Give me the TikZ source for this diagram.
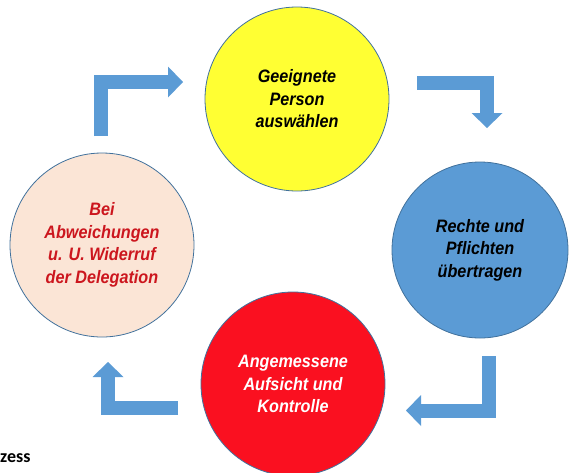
\documentclass[tikz,border=0pt]{standalone}
\usepackage{fontspec}
\setmainfont{Liberation Sans}
\newfontfamily\phasefont{Liberation Sans}[FakeStretch=0.9]
\newfontfamily\capfont{Carlito}
\usetikzlibrary{arrows.meta}

\definecolor{arrowblue}{RGB}{91,155,213}
\definecolor{rimblue}{RGB}{65,113,156}
\definecolor{pickyellow}{RGB}{255,255,51}
\definecolor{rightsblue}{RGB}{91,155,213}
\definecolor{checkred}{RGB}{250,16,32}
\definecolor{revokepeach}{RGB}{251,229,214}
\definecolor{revoketext}{RGB}{204,22,30}

\tikzset{
    phase/.style={circle, draw=rimblue, line width=0.8pt, inner sep=0pt,
        minimum size=184pt, align=center,
        font=\phasefont\bfseries\itshape\fontsize{18}{22.5}\selectfont},
    bentarrow/.style={draw=arrowblue, line width=14pt,
        -{Triangle[width=31pt, length=15pt, line width=0pt]}}
}

\begin{document}
\begin{tikzpicture}[x=1pt, y=-1pt]
    \clip (0,0) rectangle (570,472);
    \useasboundingbox (0,0) rectangle (570,472);

    % the four steps
    \node[phase, fill=pickyellow] (pick) at (297,99) {Geeignete\\Person\\auswählen};
    \node[phase, fill=rightsblue, minimum size=176pt] (rights) at (480,250) {Rechte und\\Pflichten\\übertragen};
    \node[phase, fill=checkred, text=white] (check) at (293,384) {Angemessene\\Aufsicht und\\Kontrolle};
    \node[phase, fill=revokepeach, text=revoketext] (revoke) at (102,245) {Bei\\Abweichungen\\u. U. Widerruf\\der Delegation};

    % bent arrows between the steps
    \coordinate (a1s) at (101,136);
    \coordinate (a1e) at (183,82);
    \coordinate (a2s) at (417,83);
    \coordinate (a2e) at (487,128);
    \coordinate (a3s) at (489,356);
    \coordinate (a3e) at (406,410.5);
    \coordinate (a4s) at (178,408);
    \coordinate (a4e) at (108,362);
    \draw[bentarrow] (a1s) |- (a1e);
    \draw[bentarrow] (a2s) -| (a2e);
    \draw[bentarrow] (a3s) |- (a3e);
    \draw[bentarrow] (a4s) -| (a4e);

    \node[anchor=base west, inner sep=0pt, font=\capfont\bfseries\fontsize{18}{20}\selectfont] (cap) at (0,462) {zess};
\end{tikzpicture}
\end{document}
